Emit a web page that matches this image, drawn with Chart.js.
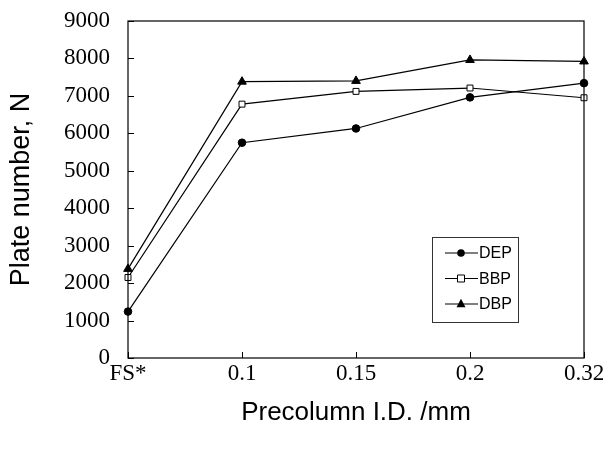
<!DOCTYPE html>
<html>
<head>
<meta charset="utf-8">
<script src="https://cdn.jsdelivr.net/npm/chart.js@4.4.0/dist/chart.umd.min.js"></script>
<style>
html,body{margin:0;padding:0;background:#fff;}
#wrap{width:605px;height:450px;}
</style>
</head>
<body>
<div id="wrap"><canvas id="c" width="605" height="450"></canvas></div>
<script>
const categories = ['FS*', '0.1', '0.15', '0.2', '0.32'];
const depValues = [1240, 5750, 6130, 6960, 7340];
const bbpValues = [2150, 6780, 7120, 7210, 6950];
const dbpValues = [2380, 7380, 7400, 7960, 7920];
const yTicks = [0, 1000, 2000, 3000, 4000, 5000, 6000, 7000, 8000, 9000];

function drawMarker(ctx, style, x, y, r) {
  ctx.save();
  ctx.lineWidth = 1;
  ctx.strokeStyle = '#000';
  ctx.beginPath();
  if (style === 'circle') {
    ctx.fillStyle = '#000';
    ctx.arc(x, y, r, 0, Math.PI * 2);
    ctx.fill();
  } else if (style === 'rect') {
    ctx.fillStyle = '#fff';
    ctx.rect(x - r, y - r, 2 * r, 2 * r);
    ctx.fill();
    ctx.stroke();
  } else if (style === 'triangle') {
    ctx.fillStyle = '#000';
    ctx.moveTo(x, y - r * 1.15);
    ctx.lineTo(x + r, y + r * 0.7);
    ctx.lineTo(x - r, y + r * 0.7);
    ctx.closePath();
    ctx.fill();
  }
  ctx.restore();
}

const framePlugin = {
  id: 'frame',
  afterDatasetsDraw(chart) {
    const {ctx, chartArea: a, scales} = chart;
    ctx.save();
    ctx.strokeStyle = '#000';
    ctx.lineWidth = 1.2;
    ctx.strokeRect(a.left, a.top, a.right - a.left, a.bottom - a.top);
    ctx.lineWidth = 1;
    ctx.beginPath();
    scales.y.ticks.forEach((t, i) => {
      const py = Math.round(scales.y.getPixelForTick(i)) + 0.5;
      ctx.moveTo(a.left, py);
      ctx.lineTo(a.left + 6, py);
    });
    scales.x.ticks.forEach((t, i) => {
      const px = Math.round(scales.x.getPixelForTick(i)) + 0.5;
      ctx.moveTo(px, a.bottom);
      ctx.lineTo(px, a.bottom - 6);
    });
    ctx.stroke();

    // legend box
    const lx = a.right - 152, ly = a.top + 216, lw = 86, lh = 85;
    ctx.strokeStyle = '#333';
    ctx.lineWidth = 1;
    ctx.strokeRect(lx + 0.5, ly + 0.5, lw, lh);
    ctx.font = '16px "Liberation Sans", Arial, sans-serif';
    ctx.textBaseline = 'middle';
    ctx.textAlign = 'left';
    ctx.fillStyle = '#000';
    chart.data.datasets.forEach((ds, i) => {
      const yy = ly + 16 + i * 25.5;
      ctx.beginPath();
      ctx.strokeStyle = '#000';
      ctx.lineWidth = 1.2;
      ctx.moveTo(lx + 13, yy);
      ctx.lineTo(lx + 46, yy);
      ctx.stroke();
      drawMarker(ctx, ds.pointStyle, lx + 29, yy, ds.pointStyle === 'triangle' ? 4.5 : (ds.pointStyle === 'rect' ? 3.5 : 3.8));
      ctx.fillStyle = '#000';
      ctx.fillText(ds.label, lx + 47, yy + 1);
    });
    ctx.restore();
  }
};

const common = {
  borderColor: '#000',
  borderWidth: 1.2,
  pointBorderColor: '#000',
  pointBorderWidth: 1,
  tension: 0,
  fill: false
};

new Chart(document.getElementById('c'), {
  type: 'line',
  data: {
    labels: categories,
    datasets: [
      Object.assign({label: 'DEP', data: depValues, pointStyle: 'circle', pointRadius: 3.8, pointBackgroundColor: '#000'}, common),
      Object.assign({label: 'BBP', data: bbpValues, pointStyle: 'rect', pointRadius: 4.2, pointBackgroundColor: '#fff'}, common),
      Object.assign({label: 'DBP', data: dbpValues, pointStyle: 'triangle', pointRadius: 5, pointBackgroundColor: '#000', pointBorderWidth: 0}, common)
    ]
  },
  options: {
    responsive: false,
    animation: false,
    devicePixelRatio: 1,
    layout: {padding: {top: 21, right: 21, left: 0, bottom: 0}},
    plugins: {legend: {display: false}, tooltip: {enabled: false}},
    scales: {
      x: {
        type: 'category',
        offset: false,
        grid: {display: false, drawTicks: false},
        border: {display: false},
        ticks: {
          color: '#000',
          padding: 2,
          maxRotation: 0,
          autoSkip: false,
          font: {family: '"Liberation Serif", "Times New Roman", serif', size: 23}
        },
        title: {
          display: true,
          text: 'Precolumn I.D. /mm',
          color: '#000',
          font: {family: '"Liberation Sans", Arial, sans-serif', size: 26},
          padding: {top: 0, bottom: 22}
        },
        afterFit(s) { s.height = 92; s.paddingLeft = 0; s.paddingRight = 0; }
      },
      y: {
        min: 0,
        max: 9000,
        afterBuildTicks(s) { s.ticks = yTicks.map(v => ({value: v})); },
        grid: {display: false, drawTicks: false},
        border: {display: false},
        ticks: {
          color: '#000',
          padding: 18,
          callback: v => String(v),
          font: {family: '"Liberation Serif", "Times New Roman", serif', size: 23}
        },
        title: {
          display: true,
          text: 'Plate number, N',
          color: '#000',
          font: {family: '"Liberation Sans", Arial, sans-serif', size: 27},
          padding: {top: 5, bottom: 0}
        },
        afterFit(s) { s.width = 128; s.paddingTop = 0; s.paddingBottom = 0; }
      }
    }
  },
  plugins: [framePlugin]
});
</script>
</body>
</html>
